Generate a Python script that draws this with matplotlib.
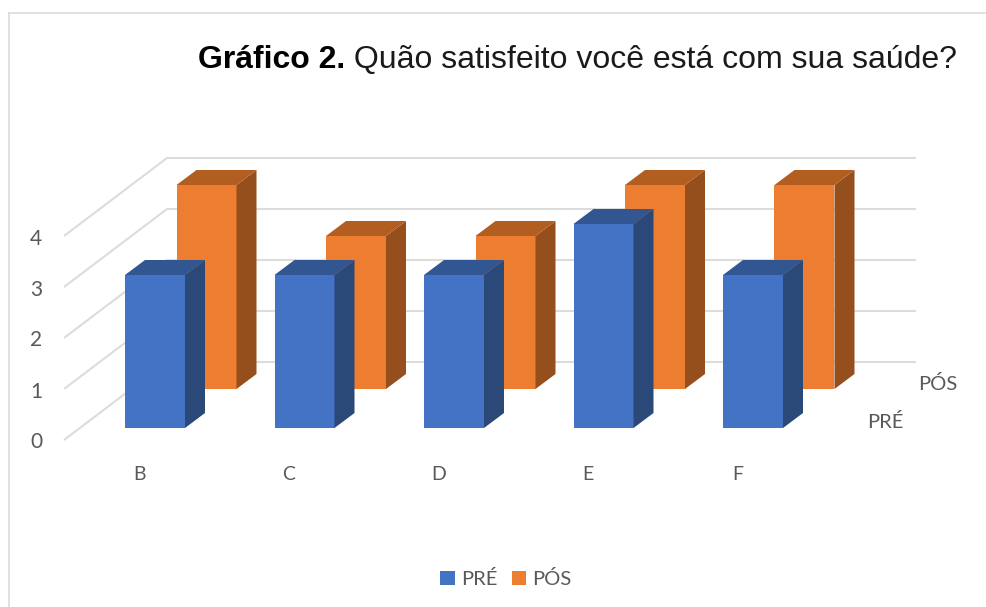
import numpy as np
import matplotlib
matplotlib.use('Agg')
import matplotlib.pyplot as plt
from matplotlib.patches import Polygon

CATEGORIAS = ['B', 'C', 'D', 'E', 'F']
PRE = [3, 3, 3, 4, 3]
POS = [4, 3, 3, 4, 4]
TICKS_Y = [0, 1, 2, 3, 4]
SERIES = ['PRÉ', 'PÓS']

AZUL = ('#4472C4', '#2A4878', '#315692')
LARANJA = ('#ED7D31', '#954F1C', '#B25E21')
CINZA = '#DCDCDC'
TEXTO = '#595959'

# escala em pixels da figura: categoria 0 / valor 0 = barra PRE da frente
PX_CAT, PX_VAL = 149.5, 51.0
X0, Y0 = 125.0, 428.0
W, H = 986, 607


def dx(px):
    return px / PX_CAT


def dv(px):
    return px / PX_VAL


fig = plt.figure(figsize=(W / 100, H / 100), dpi=100)
fig.patch.set_facecolor('white')
ax = fig.add_axes([0, 0, 1, 1])
ax.set_xlim(-X0 / PX_CAT, (W - X0) / PX_CAT)
ax.set_ylim((Y0 - H) / PX_VAL, Y0 / PX_VAL)
ax.axis('off')

# moldura do grafico
ax.plot([8.5 / W, 8.5 / W], [0, 1 - 13 / H], color=CINZA, lw=1.2, transform=ax.transAxes)
ax.plot([8.5 / W, 1], [1 - 13 / H, 1 - 13 / H], color=CINZA, lw=1.2, transform=ax.transAxes)

# linhas de grade: parede lateral + parede do fundo
for t in TICKS_Y:
    xs = [dx(64 - X0), dx(167 - X0), dx(916 - X0)]
    ys = [t - dv(12), t + dv(66), t + dv(66)]
    ax.plot(xs, ys, color=CINZA, lw=1.5, zorder=1, solid_capstyle='butt')
    ax.text(dx(36 - X0), t - dv(14.5), str(t), family='Lato', fontsize=15, color=TEXTO,
            ha='center', va='center')


def barras_3d(vals, cores, off_x, off_v, rotulo, z):
    x = np.arange(len(vals)) + dx(off_x)
    bars = ax.bar(x, vals, width=dx(60), bottom=dv(off_v), align='edge', color=cores[0],
                  linewidth=0, label=rotulo, zorder=z)
    px, pv = dx(20), dv(15)
    for xi, v in zip(x, vals):
        base = dv(off_v)
        topo = base + v
        d = xi + dx(60)
        ax.add_patch(Polygon([(d, base), (d + px, base + pv), (d + px, topo + pv), (d, topo)],
                             facecolor=cores[1], linewidth=0, zorder=z))
        ax.add_patch(Polygon([(xi, topo), (xi + px, topo + pv), (d + px, topo + pv), (d, topo)],
                             facecolor=cores[2], linewidth=0, zorder=z))
    return bars


b_pos = barras_3d(POS, LARANJA, 51.5, 39, SERIES[1], 2)
b_pre = barras_3d(PRE, AZUL, 0, 0, SERIES[0], 3)

for i, c in enumerate(CATEGORIAS):
    ax.text(i + dx(14.5), -dv(46), c, family='Lato', fontsize=14, color=TEXTO, ha='center', va='center')

ax.text(dx(885 - X0), dv(Y0 - 422), SERIES[0], family='Lato', fontsize=14.5, color=TEXTO,
        ha='center', va='center')
ax.text(dx(938 - X0), dv(Y0 - 384), SERIES[1], family='Lato', fontsize=14.5, color=TEXTO,
        ha='center', va='center')

leg = ax.legend(handles=[b_pre, b_pos], labels=SERIES, ncol=2, frameon=False, loc='center',
                bbox_to_anchor=(506 / W, 1 - 579 / H), bbox_transform=ax.transAxes,
                prop={'family': 'Lato', 'size': 14.5}, handlelength=0.7, handleheight=0.7,
                handletextpad=0.3, columnspacing=0.75)
for t in leg.get_texts():
    t.set_color(TEXTO)

# titulo em duas partes (negrito + normal)
t1 = ax.text(198 / W, 1 - 68 / H, 'Gráfico 2.', family='Liberation Sans', fontweight='bold',
             fontsize=23.05, color='black', transform=ax.transAxes, ha='left', va='baseline')
ax.annotate(' Quão satisfeito você está com sua saúde?', xy=(1, 0), xycoords=t1,
            family='Liberation Sans', fontsize=23.05, color='#1a1a1a', ha='left', va='bottom')

plt.savefig('out.png', dpi=100, facecolor='white')
plt.close()
